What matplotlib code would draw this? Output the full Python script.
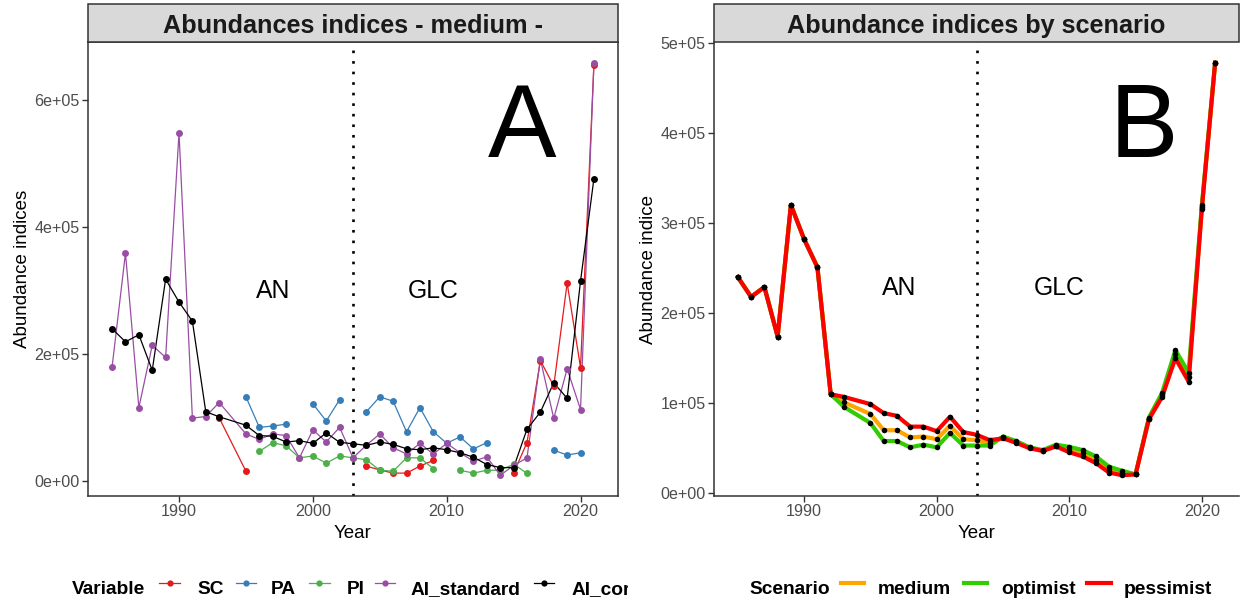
import numpy as np
import matplotlib
matplotlib.use("Agg")
import matplotlib.pyplot as plt
from matplotlib.lines import Line2D
from matplotlib.patches import Rectangle
from matplotlib.transforms import Bbox, TransformedBbox
from matplotlib.ticker import FuncFormatter

plt.rcParams['font.family'] = ['Liberation Sans', 'DejaVu Sans']

nan = np.nan
# ---------------- data ----------------
years = [1985, 1986, 1987, 1988, 1989, 1990, 1991, 1992, 1993,
         1995, 1996, 1997, 1998, 1999, 2000, 2001, 2002, 2003, 2004,
         2005, 2006, 2007, 2008, 2009, 2010, 2011, 2012, 2013, 2014,
         2015, 2016, 2017, 2018, 2019, 2020, 2021]

# Panel A (thousands)
SC = [nan, nan, nan, nan, nan, nan, nan, nan, 100,
      16, nan, nan, nan, nan, nan, nan, nan, nan, 24,
      18, 13, 13, 24, 33, nan, nan, nan, nan, nan,
      13, 61, 190, 150, 312, 179, 655]
PA = [nan, nan, nan, nan, nan, nan, nan, nan, nan,
      133, 85, 87, 90, nan, 122, 95, 128.5, nan, 109.5,
      133, 126, 78, 116, 78, 60, 70, 51, 61, nan,
      nan, nan, nan, 49, 41.5, 45, nan]
PI = [nan, nan, nan, nan, nan, nan, nan, nan, nan,
      nan, 47, 61, 56, 37, 40, 28.6, 40, 37, 34,
      17.5, 16, 37, 37, 20, nan, 17.5, 13, 17.5, 17.5,
      27, 12.7, nan, nan, nan, nan, nan]
AI_standard = [180, 359, 116, 214, 195, 548, 99.5, 102, 124,
               74.6, 66, 74.6, 72, 37, 81, 62, 85, 37, 57,
               74.6, 53, 43, 59.8, 43, 59.8, 45, 31.7, 38.6, 9.5,
               25, 37, 192, 99, 177, 113, 658]
AI_cor = [240, 219.5, 230.6, 174.6, 318, 282, 252, 109.5, 101.6,
          88.3, 72, 70.9, 61.9, 64, 59.8, 76.2, 61.4, 59.2, 56.6,
          61.9, 58.2, 51.3, 49.7, 52.9, 49.7, 45, 38, 26.5, 21.7,
          21.7, 82, 109, 155, 130.6, 315, 476]

variables = ["SC", "PA", "PI", "AI_standard", "AI_cor"]
var_colors = ["#E41A1C", "#377EB8", "#4DAF4A", "#984EA3", "#000000"]

# Panel B (thousands)
medium = [240, 218, 229, 174, 320, 282, 251, 110, 101,
          88, 70, 70, 62, 63, 60, 75, 60, 59, 56,
          62, 57, 51, 47, 53, 48.5, 44.5, 37, 26, 22.5,
          21, 83, 109, 155, 129, 318, 478]
optimist = [240, 218, 229, 174, 320, 282, 251, 110, 96,
            78, 58, 58, 51, 54, 51, 67, 53, 53, 53,
            63, 58, 51, 48, 54, 51.5, 48, 41, 29.5, 25,
            21, 84, 111.5, 159, 134, 320, 478]
pessimist = [240, 218, 229, 174, 320, 282, 251, 110, 107,
             99, 89, 86, 74, 74, 69, 85, 68, 65, 59,
             61, 56, 50, 47, 52, 45.5, 41, 33.6, 23, 20,
             21, 82, 107, 150, 124, 316, 478]
scenarios = ["medium", "optimist", "pessimist"]
scen_colors = ["#FFA500", "#33CC00", "#FF0000"]

x_ticks = [1990, 2000, 2010, 2020]
yticks_A = [0, 2e5, 4e5, 6e5]
yticks_B = [0, 1e5, 2e5, 3e5, 4e5, 5e5]
break_year = 2003

# ---------------- figure ----------------
W, H = 1241, 600
fig = plt.figure(figsize=(W / 100, H / 100), dpi=100)


def fx(px):
    return px / W


def fy(py):
    return 1 - py / H


axA = fig.add_axes([fx(88), fy(496), fx(618) - fx(88), fy(42) - fy(496)])
axB = fig.add_axes([fx(714), fy(496), fx(1239) - fx(714), fy(42) - fy(496)])

yrs = np.array(years, dtype=float)
fmt = FuncFormatter(lambda v, p: f"{v:.0e}")
edge = "#333333"


def style(ax, full_border):
    for s in ["left", "bottom", "top", "right"]:
        ax.spines[s].set_color(edge)
        ax.spines[s].set_linewidth(1.1)
    if not full_border:
        ax.spines["top"].set_visible(False)
        ax.spines["right"].set_visible(False)
    ax.tick_params(direction="out", length=4, width=1.0, color=edge,
                   labelcolor="#4D4D4D", labelsize=11.6, pad=2)
    ax.set_xticks(x_ticks)
    ax.yaxis.set_major_formatter(fmt)
    ax.set_xlim(1983.2, 2022.8)


def strip(ax, title):
    h = 37.5 / 454
    ax.add_patch(Rectangle((0, 1), 1, h, transform=ax.transAxes, clip_on=False,
                           facecolor="#D9D9D9", edgecolor=edge, lw=1.1, zorder=5))
    ax.text(0.5, 1 + h / 2, title, transform=ax.transAxes, ha="center",
            va="center_baseline", fontsize=18.2, fontweight="bold", color="#1A1A1A",
            zorder=6, clip_on=False)


# Panel A
seriesA = [SC, PA, PI, AI_standard, AI_cor]
for vals, c in zip(seriesA, var_colors):
    axA.plot(yrs, np.array(vals) * 1000, "-", color=c, lw=0.9, zorder=2)
for vals, c in zip(seriesA, var_colors):
    axA.plot(yrs, np.array(vals) * 1000, "o", color=c, ms=5, mew=0, zorder=3)
axA.axvline(break_year, color="black", lw=1.9, linestyle=(0, (1, 3)), zorder=1)
axA.set_ylim(-23000, 691000)
axA.set_yticks(yticks_A)
style(axA, True)
strip(axA, "Abundances indices - medium -")
axA.text(1997, 299000, "AN", fontsize=17.8, ha="center", va="center")
axA.text(2009, 299000, "GLC", fontsize=17.8, ha="center", va="center")
axA.text(2015.6, 552000, "A", fontsize=74, ha="center", va="center")
axA.set_xlabel("Year", fontsize=13.5)
axA.set_ylabel("Abundance indices", fontsize=13.5)
axA.xaxis.set_label_coords(0.5, -0.064)
axA.yaxis.set_label_coords(-0.108, 0.5)

# Panel B
seriesB = [medium, optimist, pessimist]
for vals, c in zip(seriesB, scen_colors):
    axB.plot(yrs, np.array(vals) * 1000, "-", color=c, lw=3, zorder=2,
             solid_joinstyle="round")
for vals in seriesB:
    axB.plot(yrs, np.array(vals) * 1000, "o", color="black", ms=4, mew=0, zorder=3)
axB.axvline(break_year, color="black", lw=1.9, linestyle=(0, (1, 3)), zorder=1)
axB.set_ylim(-3000, 501000)
axB.set_yticks(yticks_B)
style(axB, False)
strip(axB, "Abundance indices by scenario")
axB.text(1997.2, 228000, "AN", fontsize=17.8, ha="center", va="center")
axB.text(2009.2, 228000, "GLC", fontsize=17.8, ha="center", va="center")
axB.text(2015.6, 403000, "B", fontsize=74, ha="center", va="center")
axB.set_xlabel("Year", fontsize=13.5)
axB.set_ylabel("Abundance indice", fontsize=13.5)
axB.xaxis.set_label_coords(0.5, -0.064)
axB.yaxis.set_label_coords(-0.108, 0.5)

# ---------------- legends (manual, panel A clipped) ----------------
clipA = TransformedBbox(Bbox([[0, 0], [fx(628), 1]]), fig.transFigure)
ly = fy(588)
lsize = 13.8


def leg_text(px, s, clip=None):
    t = fig.text(fx(px), ly, s, fontsize=lsize, fontweight="bold", ha="left",
                 va="center_baseline", color="black")
    if clip is not None:
        t.set_clip_box(clip)
        t.set_clip_on(True)
    return t


leg_text(72, "Variable", clipA)
legA_line = [(159, 180), (236, 256), (309, 330), (375, 395), (534, 554)]
legA_text = [197, 271, 347, 411, 572]
for (x0, x1), tx, name, c in zip(legA_line, legA_text, variables, var_colors):
    ln = Line2D([fx(x0), fx(x1)], [ly + 0.008, ly + 0.008], transform=fig.transFigure,
                color=c, lw=0.9)
    mk = Line2D([fx((x0 + x1) / 2)], [ly + 0.008], transform=fig.transFigure,
                color=c, marker="o", ms=4.5, mew=0, linestyle="none")
    for a in (ln, mk):
        a.set_clip_box(clipA)
        a.set_clip_on(True)
        fig.add_artist(a)
    leg_text(tx, name, clipA)

leg_text(749, "Scenario")
legB_line = [(841, 864), (964, 987), (1087, 1111)]
legB_text = [878, 1001, 1124]
for (x0, x1), tx, name, c in zip(legB_line, legB_text, scenarios, scen_colors):
    fig.add_artist(Line2D([fx(x0), fx(x1)], [ly + 0.008, ly + 0.008],
                          transform=fig.transFigure, color=c, lw=3))
    leg_text(tx, name)

fig.savefig("out.png", dpi=100)
